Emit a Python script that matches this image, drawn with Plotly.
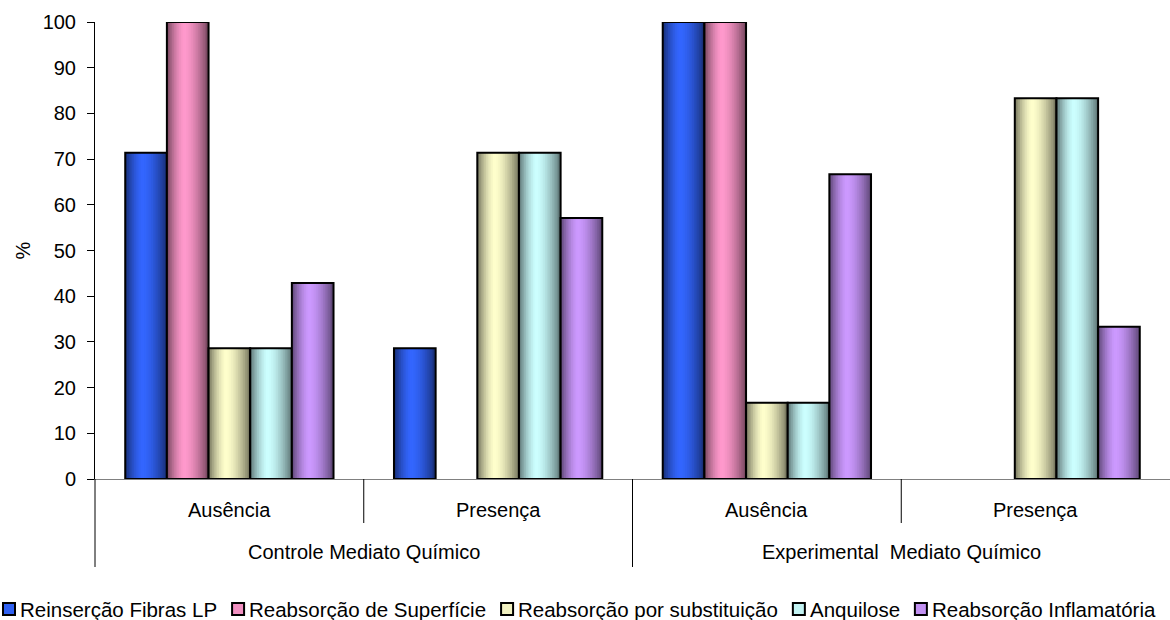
import math
import plotly.graph_objects as go

# ---------------- data ----------------
groups = ["Controle Mediato Químico", "Experimental  Mediato Químico"]
subcats = ["Ausência", "Presença", "Ausência", "Presença"]
series_names = [
    "Reinserção Fibras LP",
    "Reabsorção de Superfície",
    "Reabsorção por substituição",
    "Anquilose",
    "Reabsorção Inflamatória",
]
reinsercao = [71.4, 28.6, 100.0, 0.0]
superficie = [100.0, 0.0, 100.0, 0.0]
substituicao = [28.6, 71.4, 16.7, 83.3]
anquilose = [28.6, 71.4, 16.7, 83.3]
inflamatoria = [42.9, 57.1, 66.7, 33.3]
y_ticks = [0, 10, 20, 30, 40, 50, 60, 70, 80, 90, 100]

series_values = [reinsercao, superficie, substituicao, anquilose, inflamatoria]

# ---------------- style ----------------
W, H = 1170, 620
ML, MR, MT, MB = 95, 0, 22, 141
PW, PH = W - ML - MR, H - MT - MB
FONT = "Liberation Sans, Arial, sans-serif"
FS = 20
LEG_FS = 20.5
base_colors = [(0x33, 0x66, 0xFF), (0xFF, 0x99, 0xCC), (0xFF, 0xFF, 0xCC),
               (0xCC, 0xFF, 0xFF), (0xCC, 0x99, 0xFF)]
DARK = 0.45
PEAK = 0.42
N_STRIPES = 24
GROUP_W = 0.775
BAR_W = GROUP_W / len(series_names)


def shade(rgb, f):
    return "rgb(%d,%d,%d)" % tuple(int(round(c * f)) for c in rgb)


def profile(t):
    d = (PEAK - t) / PEAK if t < PEAK else (t - PEAK) / (1 - PEAK)
    s = 1 - d ** 1.6
    return DARK + (1 - DARK) * s


# Arial width table (em) for the legend layout
AW = {c: 0.556 for c in "abdeghnopquãêóé"}
AW.update({"c": .5, "s": .5, "ç": .5, "k": .5, "v": .5, "x": .5, "y": .5, "z": .5,
           "f": .278, "t": .278, "i": .222, "l": .222, "j": .222, "í": .278, "r": .333,
           "m": .833, "w": .722, " ": .278, "R": .722, "F": .611, "L": .556, "P": .667,
           "S": .667, "A": .667, "I": .278})


def text_w(s, fs):
    return sum(AW.get(ch, 0.6) for ch in s) * fs


def px_to_paper_x(px):
    return (px - ML) / PW


def py_to_paper_y(py):
    return (H - MB - py) / PH


x_pos = list(range(len(subcats)))
fig = go.Figure()

for i, (name, vals, rgb) in enumerate(zip(series_names, series_values, base_colors)):
    draw_vals = [v if v != 0 else None for v in vals]
    start = -GROUP_W / 2 + i * BAR_W
    for k in range(N_STRIPES):
        t0 = k / N_STRIPES
        tc = (k + 0.5) / N_STRIPES
        fig.add_trace(go.Bar(
            x=x_pos, y=draw_vals, offset=start + t0 * BAR_W, width=BAR_W * (1 - t0),
            marker=dict(color=shade(rgb, profile(tc)), line=dict(width=0)),
            showlegend=False, hoverinfo="skip", name=name,
        ))
    fig.add_trace(go.Bar(
        x=x_pos, y=draw_vals, offset=start, width=BAR_W, name=name,
        marker=dict(color="rgba(0,0,0,0)", line=dict(color="black", width=2)),
        showlegend=False, hovertemplate=name + ": %{y}<extra></extra>",
    ))

annotations = []
shapes = []

# category labels
for p, lab in zip(x_pos, subcats):
    annotations.append(dict(x=p, y=0, xref="x", yref="paper", yshift=-31, text=lab,
                            showarrow=False, yanchor="middle",
                            font=dict(size=FS, color="black", family=FONT)))
for g, lab in enumerate(groups):
    annotations.append(dict(x=2 * g + 0.5, y=0, xref="x", yref="paper", yshift=-73, text=lab,
                            showarrow=False, yanchor="middle",
                            font=dict(size=FS, color="black", family=FONT)))

# category dividers
n = len(subcats)
for j in range(n):
    px = j / n
    depth = -88 if j % 2 == 0 else -44
    shapes.append(dict(type="line", xref="paper", yref="paper", ysizemode="pixel", yanchor=0,
                       x0=px, x1=px, y0=0, y1=depth, line=dict(color="black", width=1)))

# legend (one row under the chart)
SQ, G1, G2 = 12, 4, 16
leg_y = 609
cx = 3
for name, rgb in zip(series_names, base_colors):
    shapes.append(dict(type="rect", xref="paper", yref="paper",
                       x0=px_to_paper_x(cx), x1=px_to_paper_x(cx + SQ),
                       y0=py_to_paper_y(leg_y - SQ / 2), y1=py_to_paper_y(leg_y + SQ / 2),
                       fillcolor=shade(rgb, 0.95), line=dict(color="black", width=2)))
    annotations.append(dict(x=px_to_paper_x(cx + SQ + G1), y=py_to_paper_y(leg_y),
                            xref="paper", yref="paper", text=name, showarrow=False,
                            xanchor="left", yanchor="middle", borderpad=0,
                            font=dict(size=LEG_FS, color="black", family=FONT)))
    cx += SQ + G1 + text_w(name, LEG_FS) + G2

fig.update_layout(
    width=W, height=H,
    margin=dict(l=ML, r=MR, t=MT, b=MB),
    paper_bgcolor="white", plot_bgcolor="white",
    barmode="overlay",
    font=dict(family=FONT, size=FS, color="black"),
    showlegend=False,
    annotations=annotations,
    shapes=shapes,
    xaxis=dict(range=[-0.5, n - 0.5], showticklabels=False, ticks="", showgrid=False,
               zeroline=False, showline=True, linecolor="#808080", linewidth=1,
               fixedrange=True, automargin=False),
    yaxis=dict(range=[0, 100], tickvals=y_ticks, ticks="outside", ticklen=7, tickcolor="black",
               showline=True, linecolor="black", linewidth=1, showgrid=False, zeroline=False,
               ticklabelstandoff=7, tickfont=dict(size=FS, family=FONT, color="black"),
               automargin=False,
               title=dict(text="%", standoff=6, font=dict(size=FS, family=FONT, color="black"))),
)

fig.write_html("out.html", config={"displayModeBar": False},
               post_script="document.body.style.margin='0';document.body.style.overflow='hidden';")
